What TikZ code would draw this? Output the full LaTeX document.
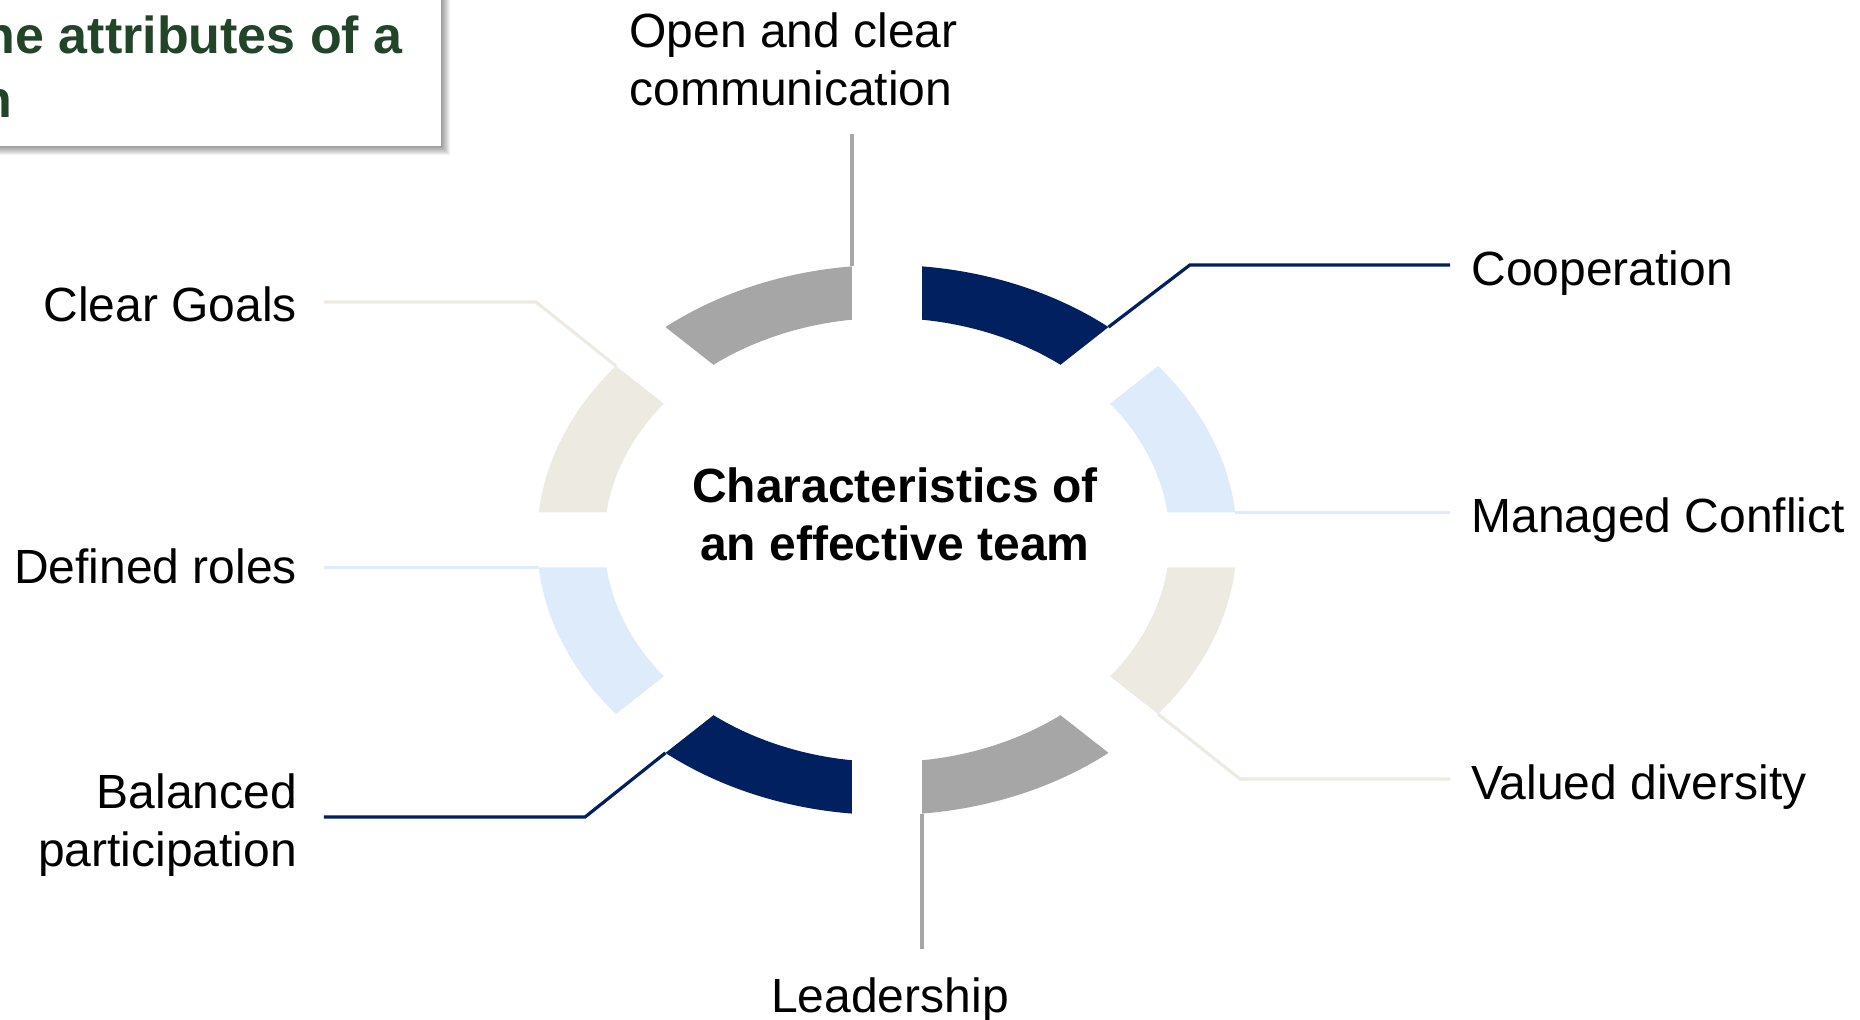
\documentclass[tikz,border=0pt]{standalone}
\usepackage{fontspec}
\setmainfont{Liberation Sans}

\definecolor{tnavy}{RGB}{0,32,96}
\definecolor{tgray}{RGB}{166,166,166}
\definecolor{tblue}{RGB}{222,235,250}
\definecolor{tsand}{RGB}{237,235,225}
\definecolor{tgreen}{RGB}{34,68,40}

\begin{document}
\begin{tikzpicture}[x=0.5pt, y=0.5pt,
  lbl/.style={font=\fontsize{24}{29}\selectfont, inner xsep=12pt, inner ysep=14pt},
  lblleft/.style={lbl, anchor=east, align=right, inner xsep=13.3pt},
  lblright/.style={lbl, anchor=west, align=left, inner xsep=10.5pt},
  leader/.style={line width=1.6pt}]
\useasboundingbox (-887,-480) rectangle (973,540);
\clip (-887,-480) rectangle (973,540);

\foreach \s in {1,...,9}
  \fill[black, opacity=.05] (-920,580) rectangle (-446+\s,394-\s);
\fill[white] (-920,580) rectangle (-446,394);
\node[anchor=north west, inner sep=0, align=left, text=tgreen,
  font=\bfseries\fontsize{26}{32}\selectfont] (title) at (-921,525)
  {the attributes of a\\\phantom{i}n};

\begin{scope}[xscale=1.273]
\foreach \a/\col [count=\i from 0] in
  {0/tblue, 45/tnavy, 90/tgray, 135/tsand, 180/tblue, 225/tnavy, 270/tgray, 315/tsand} {
  \fill[\col] ({\a+5.74}:275) arc[start angle=\a+5.74, end angle=\a+39.26, radius=275]
    -- ({\a+37.88}:222) arc[start angle=\a+37.88, end angle=\a+7.12, radius=222] -- cycle;
  \coordinate (c\i) at ({\a+5.74}:275);
}
\end{scope}

\node[font=\bfseries\fontsize{24}{29}\selectfont, align=center] (core) at (8,26)
  {Characteristics of\\an effective team};

\node[lblright] (conflict) at (563,19.5) {Managed Conflict};
\node[lblright] (coop) at (563,267) {Cooperation};
\node[lblright] (diversity) at (563,-247) {Valued diversity};
\node[lblleft] (goals) at (-563,235.6) {Clear Goals};
\node[lblleft] (roles) at (-563,-26) {Defined roles};
\node[lblleft] (balance) at (-563,-285) {Balanced\\participation};
\node[lbl, anchor=south west, align=left] (open) at (-282,406) {Open and clear\\communication};
\node[lbl, anchor=north] (leadership) at (3,-409) {Leadership};

\draw[leader, tblue] (c0) -- (c0 -| conflict.west);
\draw[leader, tnavy] (c1) -- ++(81.4,62.1) coordinate (k1) -- (k1 -| coop.west);
\draw[leader, tgray] (c2) -- (c2 |- open.south);
\draw[leader, tsand] (c3) -- ++(-80,64) coordinate (k3) -- (k3 -| goals.east);
\draw[leader, tblue] (c4) -- (c4 -| roles.east);
\draw[leader, tnavy] (c5) -- ++(-80.4,-64.1) coordinate (k5) -- (k5 -| balance.east);
\draw[leader, tgray] (c6) -- (c6 |- leadership.north);
\draw[leader, tsand] (c7) -- ++(82,-65) coordinate (k7) -- (k7 -| diversity.west);
\end{tikzpicture}
\end{document}
